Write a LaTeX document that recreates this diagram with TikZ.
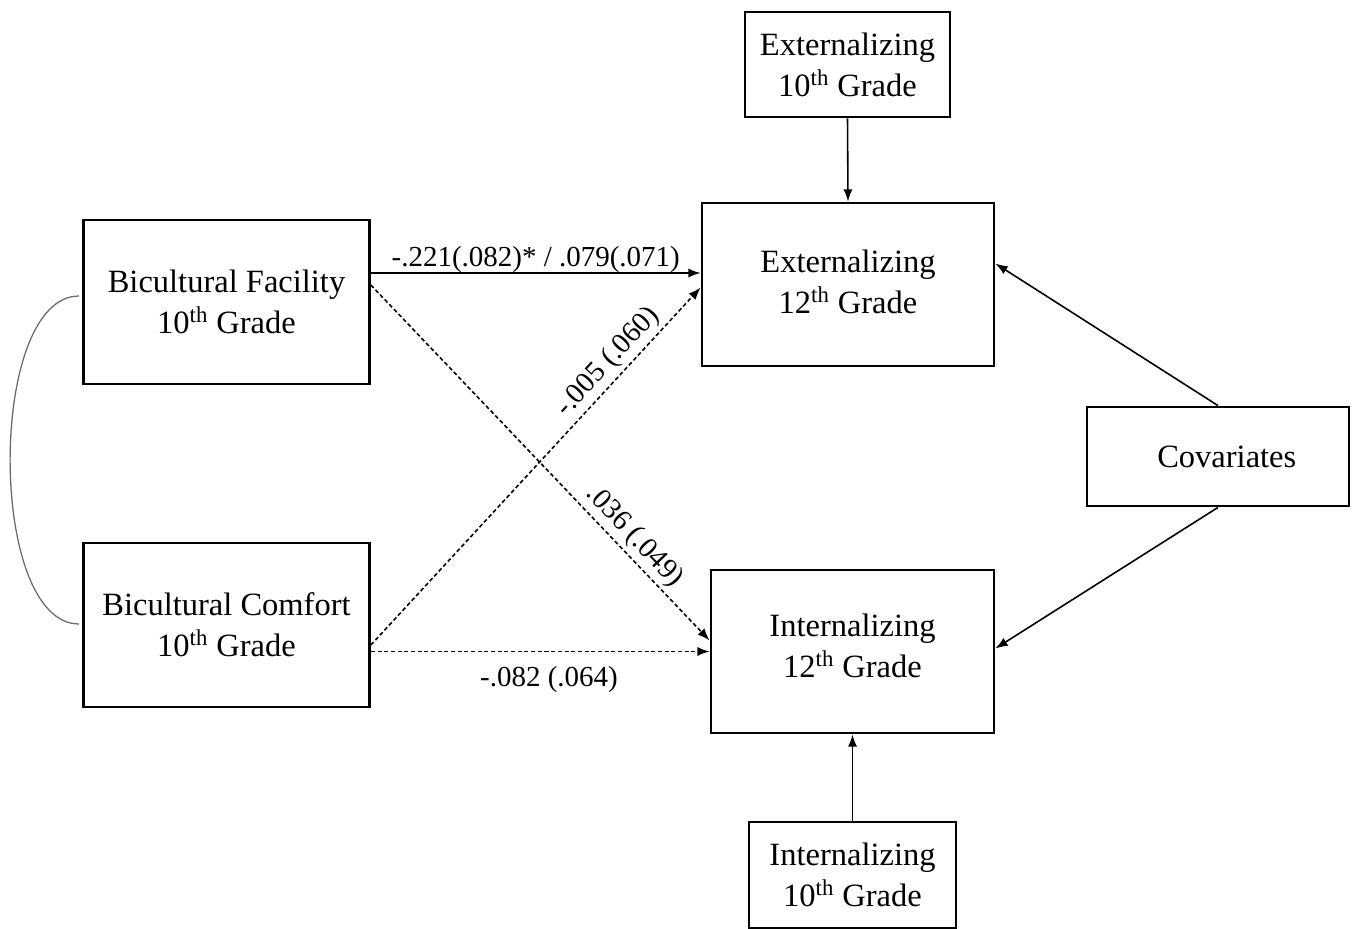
\documentclass[tikz,border=0pt]{standalone}
\usepackage{fontspec}
\setmainfont{Liberation Serif}
\usetikzlibrary{arrows.meta,calc}

\begin{document}
\begin{tikzpicture}[
    >={Latex[length=7pt,width=5.2pt]},
    x=0.02cm,
    y=-0.02cm,
    box/.style={draw, line width=1.6pt, align=center, inner sep=0pt,
        font=\fontsize{18.5pt}{23.3pt}\selectfont},
    arr/.style={->, line width=0.9pt},
    darr/.style={arr, dash pattern=on 2.3pt off 1.5pt},
    coef/.style={font=\fontsize{16.5pt}{20pt}\selectfont, inner sep=2pt}
]
\useasboundingbox (0,0) rectangle (1355,929);

% 1. Predictors (left)
\node[box, minimum width=5.72cm, minimum height=3.28cm] (fac) at (226.5,302)
    {Bicultural Facility\\10\textsuperscript{th} Grade};
\node[box, minimum width=5.72cm, minimum height=3.28cm] (com) at (226.5,625)
    {Bicultural Comfort\\10\textsuperscript{th} Grade};

% 2. Outcomes (middle) and their baselines
\node[box, minimum width=4.1cm, minimum height=2.1cm] (ext10) at (847.5,64.5)
    {Externalizing\\10\textsuperscript{th} Grade};
\node[box, minimum width=5.84cm, minimum height=3.26cm, text depth=0.1cm] (ext12) at (848,284.5)
    {Externalizing\\12\textsuperscript{th} Grade};
\node[box, minimum width=5.66cm, minimum height=3.26cm, text depth=0.22cm] (int12) at (852.5,651.5)
    {Internalizing\\12\textsuperscript{th} Grade};
\node[box, minimum width=4.14cm, minimum height=2.12cm] (int10) at (852.5,875)
    {Internalizing\\10\textsuperscript{th} Grade};

% 3. Covariates (right)
\node[box, minimum width=5.24cm, minimum height=1.98cm] (cov) at (1218,456.5)
    {\hspace*{10pt}Covariates};

% 4. Correlation between predictors
\draw[black!60, line width=0.7pt] ($(fac.west)+(-3,-6)$)
    .. controls +(-92,0) and +(-92,0) .. ($(com.west)+(-3,-1)$);

% 5. Stability paths
\draw[arr] (ext10.south) -- (ext12.north);
\draw[arr] (int10.north) -- (int12.south);

% 6. Cross paths with coefficients
\draw[arr] ($(fac.east)+(0,-29)$) -- ($(fac.east -| ext12.west)+(0,-29)$)
    node[coef, above=-2pt, midway] {-.221(.082)* / .079(.071)};
\draw[darr] ($(fac.east)+(0,-17)$) -- ($(int12.west)+(0,-11)$)
    node[coef, sloped, above, pos=0.741] {.036 (.049)};
\draw[darr] ($(com.east)+(0,20)$) -- ($(ext12.west)+(0,3)$)
    node[coef, sloped, above, pos=0.758] {-.005 (.060)};
\draw[darr] (com.east |- int12.west) -- (int12.west)
    node[coef, below=6pt, midway, xshift=5] {-.082 (.064)};

% 7. Covariate paths
\draw[arr] (cov.north) -- ($(ext12.east)+(0,-21)$);
\draw[arr] (cov.south) -- ($(int12.east)+(0,-3)$);

\end{tikzpicture}
\end{document}
